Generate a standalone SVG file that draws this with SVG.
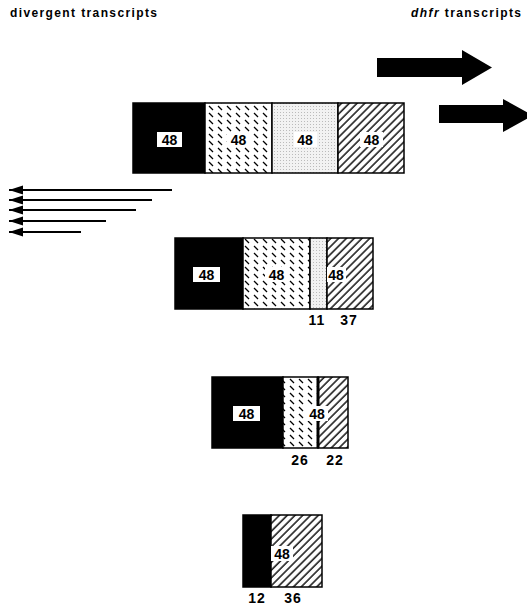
<svg xmlns="http://www.w3.org/2000/svg" width="527" height="606" viewBox="0 0 527 606">
<style>
.t{font-family:"Liberation Sans",Arial,sans-serif;font-weight:bold;font-size:12px;fill:#000}
.n{font-family:"Liberation Sans",Arial,sans-serif;font-weight:bold;font-size:14px;fill:#000;text-anchor:middle}
.seg{stroke:#000;stroke-width:1.5}
.lbl{fill:#fff}
.ar{stroke:#000;stroke-width:2;fill:none}
</style>
<defs>
<pattern id="dash" width="9" height="7" patternUnits="userSpaceOnUse">
<rect width="9" height="7" fill="#fff"/>
<line x1="2" y1="1" x2="6" y2="5" stroke="#000" stroke-width="1.3"/>
</pattern>
<pattern id="dots" width="3" height="3" patternUnits="userSpaceOnUse">
<rect width="3" height="3" fill="#f2f2f2"/>
<rect x="1" y="1" width="1" height="1" fill="#bbb"/>
</pattern>
<pattern id="hatch" width="5.5" height="5.5" patternUnits="userSpaceOnUse" patternTransform="rotate(45)">
<rect width="5.5" height="5.5" fill="#fff"/>
<line x1="1" y1="0" x2="1" y2="5.5" stroke="#000" stroke-width="1.4"/>
</pattern>
<marker id="ah" markerWidth="14" markerHeight="10" refX="14" refY="5" orient="auto" markerUnits="userSpaceOnUse">
<path d="M14,5 L0,0.5 L0,9.5 Z" fill="#000"/>
</marker>
</defs>

<text class="t" x="10" y="17" textLength="147" lengthAdjust="spacing">divergent transcripts</text>
<text class="t" x="411" y="17" textLength="110" lengthAdjust="spacing"><tspan font-style="italic">dhfr</tspan> transcripts</text>

<g id="dhfr-arrows">
<path d="M377,58 H462 V50 L492,67.5 L462,85 V77 H377 Z" fill="#000"/>
<path d="M439,105 H503 V99 L533,115.5 L503,132 V123 H439 Z" fill="#000"/>
</g>

<g id="connectors">
<line class="ar" x1="172" y1="190" x2="9" y2="190" marker-end="url(#ah)"/>
<line class="ar" x1="152" y1="200" x2="9" y2="200" marker-end="url(#ah)"/>
<line class="ar" x1="136" y1="210" x2="9" y2="210" marker-end="url(#ah)"/>
<line class="ar" x1="106" y1="221" x2="9" y2="221" marker-end="url(#ah)"/>
<line class="ar" x1="81" y1="232" x2="9" y2="232" marker-end="url(#ah)"/>
</g>

<g id="box1">
<rect class="seg" x="133" y="103" width="72" height="70" fill="#000"/>
<rect class="seg" x="205" y="103" width="67" height="70" fill="url(#dash)"/>
<rect class="seg" x="272" y="103" width="66" height="70" fill="url(#dots)"/>
<rect class="seg" x="338" y="103" width="66" height="70" fill="url(#hatch)"/>
<rect class="lbl" x="157" y="132" width="25" height="15"/>
<text class="n" x="169.5" y="144.5">48</text>
<rect class="lbl" x="227" y="132" width="23" height="15"/>
<text class="n" x="238.5" y="144.5">48</text>
<rect class="lbl" x="294" y="132" width="23" height="15" fill="#f2f2f2"/>
<text class="n" x="305" y="144.5">48</text>
<rect class="lbl" x="360" y="132" width="23" height="15"/>
<text class="n" x="371.5" y="144.5">48</text>
</g>

<g id="box2">
<rect class="seg" x="175" y="238" width="68" height="71" fill="#000"/>
<rect class="seg" x="243" y="238" width="67" height="71" fill="url(#dash)"/>
<rect class="seg" x="310" y="238" width="17" height="71" fill="url(#dots)"/>
<rect class="seg" x="327" y="238" width="46" height="71" fill="url(#hatch)"/>
<rect class="lbl" x="193" y="267" width="27" height="15"/>
<text class="n" x="206.5" y="279.5">48</text>
<rect class="lbl" x="265" y="267" width="23" height="15"/>
<text class="n" x="276.5" y="279.5">48</text>
<rect class="lbl" x="327" y="267" width="19" height="15"/>
<text class="n" x="336" y="279.5">48</text>
<text class="n" x="317" y="325" letter-spacing="1">11</text>
<text class="n" x="349" y="325" letter-spacing="1">37</text>
</g>

<g id="box3">
<rect class="seg" x="212" y="377" width="71" height="71" fill="#000"/>
<rect class="seg" x="283" y="377" width="35" height="71" fill="url(#dash)"/>
<rect class="seg" x="318" y="377" width="30" height="71" fill="url(#hatch)"/>
<line x1="318" y1="377" x2="318" y2="448" stroke="#000" stroke-width="3"/>
<rect class="lbl" x="233" y="406" width="27" height="15"/>
<text class="n" x="246.5" y="418.5">48</text>
<rect class="lbl" x="306" y="406" width="22" height="15"/>
<text class="n" x="317" y="418.5">48</text>
<text class="n" x="300" y="465" letter-spacing="1">26</text>
<text class="n" x="335" y="465" letter-spacing="1">22</text>
</g>

<g id="box4">
<rect class="seg" x="243" y="515" width="28" height="72" fill="#000"/>
<rect class="seg" x="271" y="515" width="51" height="72" fill="url(#hatch)"/>
<rect class="lbl" x="271" y="546" width="22" height="15"/>
<text class="n" x="282" y="558.5">48</text>
<text class="n" x="257" y="603" letter-spacing="1">12</text>
<text class="n" x="293" y="603" letter-spacing="1">36</text>
</g>
</svg>
